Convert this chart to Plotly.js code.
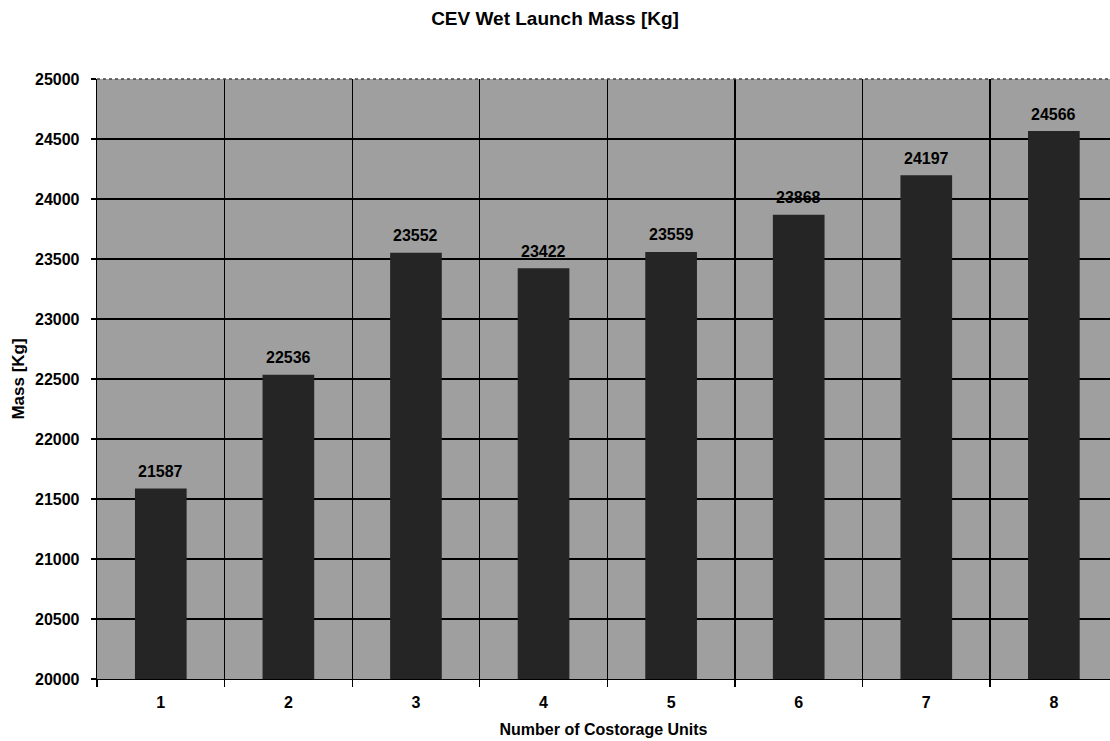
<!DOCTYPE html>
<html>
<head>
<meta charset="utf-8">
<script src="https://cdn.plot.ly/plotly-3.0.1.min.js"></script>
<style>html,body{margin:0;padding:0;background:#fff;overflow:hidden;}#chart{width:1110px;height:741px;}</style>
</head>
<body>
<div id="chart"></div>
<script>
const categories = ["1", "2", "3", "4", "5", "6", "7", "8"];
const massValues = [21587, 22536, 23552, 23422, 23559, 23868, 24197, 24566];
const yTickVals = [20000, 20500, 21000, 21500, 22000, 22500, 23000, 23500, 24000, 24500, 25000];

const fontFam = '"Liberation Sans", Arial, sans-serif';

const trace = {
  type: 'bar',
  x: categories,
  y: massValues,
  marker: {color: '#252525', line: {width: 0}},
  hoverinfo: 'x+y'
};

// On a category axis, annotation x is the category's index
const labelAnnotations = categories.map((c, i) => ({
  x: i, y: massValues[i], xref: 'x', yref: 'y',
  text: '<b>' + massValues[i] + '</b>',
  showarrow: false, yanchor: 'middle', xanchor: 'center', yshift: 17,
  font: {family: fontFam, size: 16, color: '#000'}
}));

const layout = {
  width: 1110,
  height: 741,
  margin: {l: 97, r: 0, t: 79, b: 62},
  paper_bgcolor: '#ffffff',
  plot_bgcolor: '#9f9f9f',
  bargap: 0.595,
  showlegend: false,
  title: {
    text: '<b>CEV Wet Launch Mass [Kg]</b>',
    x: 0.5, xref: 'container', xanchor: 'center',
    y: 0.975, yref: 'container', yanchor: 'middle',
    font: {family: fontFam, size: 19, color: '#000'}
  },
  xaxis: {
    type: 'category',
    range: [-0.5, 7.44],
    tickson: 'boundaries',
    ticks: 'outside',
    ticklen: 7,
    tickcolor: '#000',
    tickwidth: 1.3,
    ticklabelstandoff: 8,
    showgrid: true,
    gridcolor: '#000',
    gridwidth: 1.3,
    showline: true,
    linecolor: '#000',
    linewidth: 1.3,
    zeroline: false,
    tickfont: {family: fontFam, size: 16, color: '#000', weight: 'bold'},
    title: {text: '<b>Number of Costorage Units</b>', standoff: 14, font: {family: fontFam, size: 16, color: '#000'}}
  },
  yaxis: {
    range: [20000, 25000],
    tickvals: yTickVals,
    ticktext: yTickVals.map(String),
    ticks: 'outside',
    ticklen: 5,
    tickcolor: '#000',
    tickwidth: 1.3,
    ticklabelstandoff: 8,
    showgrid: true,
    gridcolor: '#000',
    gridwidth: 1.3,
    showline: true,
    linecolor: '#000',
    linewidth: 1.3,
    zeroline: false,
    tickfont: {family: fontFam, size: 16, color: '#000', weight: 'bold'},
    title: {text: '<b>Mass [Kg]</b>', standoff: 6, font: {family: fontFam, size: 17, color: '#000'}}
  },
  annotations: labelAnnotations,
  shapes: [{
    type: 'line', xref: 'paper', yref: 'paper', x0: 0, x1: 1, y0: 1, y1: 1,
    line: {color: '#444', width: 1.5, dash: 'dot'}
  }]
};

Plotly.newPlot('chart', [trace], layout, {displayModeBar: false, staticPlot: true});
</script>
</body>
</html>
